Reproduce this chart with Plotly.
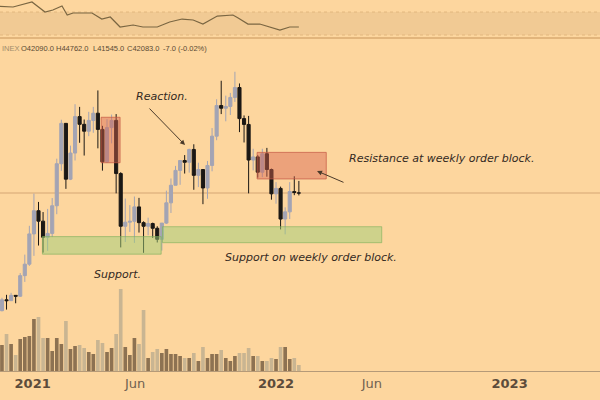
import plotly.graph_objects as go
import pandas as pd

BG = "#fdd69e"
UP_COLOR = "#a3a4b4"
DOWN_COLOR = "#1b1815"
VOL_UP = "#8d7252"
VOL_DOWN = "#c9b592"
TEXT_DARK = "#33291f"

# ---------------- data (weekly BTC candles) ----------------
first_week = "2020-11-16"
weeks = pd.date_range(first_week, periods=66, freq="7D")

opens = [15960, 18370, 18180, 19360, 19170, 23740, 26280, 33000, 38150, 35830,
         32260, 33110, 39250, 48580, 57540, 45150, 50950, 59040, 57330, 55800,
         58200, 59800, 56200, 49000, 56600, 58200, 46400, 34700, 35600, 35800,
         39000, 35500, 34700, 35300, 34250, 31800, 35400, 39900, 43800, 47100,
         49300, 48900, 51750, 46000, 47300, 43200, 48200, 54700, 61500, 60900,
         61300, 63300, 65500, 58600, 57300, 49400, 50100, 46700, 50800, 47300,
         41900, 43100, 36300, 37900, 42400, 42090]
highs = [18820, 19480, 19920, 19420, 24300, 28400, 34800, 41950, 40100, 37850,
         38550, 40960, 49700, 58350, 57540, 52600, 61800, 61200, 58400, 60100,
         61200, 64850, 57000, 58450, 59500, 59600, 46700, 40850, 39400, 41300,
         41000, 35800, 36600, 35500, 34700, 35400, 42600, 45300, 48100, 49400,
         50500, 51900, 52900, 48800, 47300, 49200, 56500, 62900, 67000, 63700,
         64300, 69000, 66400, 59300, 59200, 51900, 50500, 51900, 52100, 47500,
         44500, 43500, 38900, 44500, 45800, 44762]
lows = [15800, 16200, 18100, 17600, 19000, 22350, 25900, 28130, 30420, 28850,
        29240, 32300, 37370, 47000, 43000, 44950, 49300, 53230, 50400, 54700,
        55450, 52000, 47050, 48800, 53100, 42000, 30000, 31200, 33450, 31000,
        33300, 28800, 32700, 32100, 31100, 29300, 35200, 37650, 43800, 43900,
        46400, 46600, 42800, 43400, 39600, 40800, 46900, 53800, 59600, 58000,
        59400, 62300, 55600, 53300, 42000, 47100, 45500, 45600, 45700, 40600,
        39700, 34000, 32900, 36300, 41600, 41545]
closes = [18370, 18180, 19360, 19170, 23740, 26280, 33000, 38150, 35830, 32260,
          33110, 39250, 48580, 57540, 45150, 50950, 59040, 57330, 55800, 58200,
          59800, 56200, 49000, 56600, 58200, 46400, 34700, 35600, 35800, 39000,
          35500, 34700, 35300, 34250, 31800, 35400, 39900, 43800, 47100, 49300,
          48900, 51750, 46000, 47300, 43200, 48200, 54700, 61500, 60900, 61300,
          63300, 65500, 58600, 57300, 49400, 50100, 46700, 50800, 47300, 41900,
          43100, 36300, 37900, 42400, 42200, 42083]
volume_k = [26, 37, 27, 16, 32, 34, 35, 52, 54, 33,
            33, 20, 33, 27, 50, 22, 25, 26, 23, 19,
            17, 31, 28, 19, 23, 37, 82, 24, 16, 33,
            27, 61, 13, 19, 22, 18, 22, 17, 17, 15,
            13, 13, 18, 10, 24, 13, 17, 17, 21, 13,
            10, 15, 18, 18, 23, 15, 15, 10, 10, 13,
            12, 24, 24, 12, 13, 6]

osc_dates = ["2020-11-09", "2020-12-03", "2021-01-01", "2021-01-21", "2021-02-02",
             "2021-02-16", "2021-02-24", "2021-03-05", "2021-03-16", "2021-04-03",
             "2021-04-18", "2021-05-01", "2021-05-16", "2021-06-05", "2021-06-20",
             "2021-07-12", "2021-07-31", "2021-08-19", "2021-09-05", "2021-09-20",
             "2021-10-12", "2021-11-05", "2021-11-13", "2021-11-28", "2021-12-16",
             "2022-01-01", "2022-01-16", "2022-01-31", "2022-02-14"]
osc_values = [80, 78.7, 87.4, 70, 73.5, 80.4, 64.8, 68.3, 68.3, 68.3,
              57.8, 61.3, 43.9, 47.4, 43.9, 43.9, 52.6, 57.8, 56.1, 49.1,
              63, 64.8, 59.6, 49.1, 49.1, 43.9, 38.7, 43.9, 43.9]

tick_dates = ["2021-01-02", "2021-06-08", "2022-01-10", "2022-06-06", "2023-01-03"]
tick_labels = ["2021", "Jun", "2022", "Jun", "2023"]

ohlc_header = ["INEX", "O42090.0", "H44762.0", "L41545.0", "C42083.0", "-7.0 (-0.02%)"]
last_close = 42083

# ---------------- figure ----------------
vol_colors = [VOL_UP if c >= o else VOL_DOWN for o, c in zip(opens, closes)]

fig = go.Figure()
fig.add_trace(go.Bar(
    x=weeks, y=[v * 1000 for v in volume_k], marker=dict(color=vol_colors, line=dict(width=0)),
    width=0.8 * 7 * 86400000, yaxis="y2", hoverinfo="skip"))
fig.add_trace(go.Candlestick(
    x=weeks, open=opens, high=highs, low=lows, close=closes,
    increasing=dict(line=dict(color=UP_COLOR, width=1), fillcolor=UP_COLOR),
    decreasing=dict(line=dict(color=DOWN_COLOR, width=1), fillcolor=DOWN_COLOR),
    whiskerwidth=0, yaxis="y"))
fig.add_trace(go.Scatter(
    x=osc_dates, y=osc_values, mode="lines", line=dict(color="#7a6642", width=1.2),
    yaxis="y3", hoverinfo="skip"))

ticktext = []
for t in tick_labels:
    if t.isdigit():
        ticktext.append("<b><span style='color:#5c4c3b'>%s</span></b>" % t)
    else:
        ticktext.append("<span style='color:#6f6150'>%s</span>" % t)

shapes = [
    # oscillator band
    dict(type="rect", xref="paper", yref="y3", x0=0, x1=1, y0=30, y1=70,
         fillcolor="#f1ca94", line=dict(width=0), layer="below"),
    dict(type="line", xref="paper", yref="y3", x0=0, x1=1, y0=70, y1=70,
         line=dict(color="#e2b77e", width=1, dash="dot"), layer="below"),
    dict(type="line", xref="paper", yref="y3", x0=0, x1=1, y0=30, y1=30,
         line=dict(color="#e2b77e", width=1, dash="dot"), layer="below"),
    dict(type="line", xref="paper", yref="paper", x0=0, x1=1, y0=0.905, y1=0.905,
         line=dict(color="#d8aa70", width=1.5)),
    # last price line
    dict(type="line", xref="paper", yref="y", x0=0, x1=1, y0=last_close, y1=last_close,
         line=dict(color="#d5a675", width=1), layer="below"),
    # support zones
    dict(type="rect", xref="x", yref="y", x0="2021-01-17", x1="2021-07-18", y0=28500, y1=32400,
         fillcolor="rgba(160,205,120,0.5)", line=dict(color="rgba(125,175,90,0.6)", width=1)),
    dict(type="rect", xref="x", yref="y", x0="2021-07-20", x1="2022-06-21", y0=31050, y1=34600,
         fillcolor="rgba(160,205,120,0.5)", line=dict(color="rgba(125,175,90,0.6)", width=1)),
    # order blocks
    dict(type="rect", xref="x", yref="y", x0="2021-04-17", x1="2021-05-16", y0=48800, y1=58900,
         fillcolor="rgba(215,100,80,0.45)", line=dict(color="rgba(195,85,65,0.7)", width=1)),
    dict(type="rect", xref="x", yref="y", x0="2021-12-12", x1="2022-03-28", y0=45200, y1=51100,
         fillcolor="rgba(215,100,80,0.45)", line=dict(color="rgba(195,85,65,0.7)", width=1)),
]

ann_font = dict(family="DejaVu Sans", size=11, color=TEXT_DARK)
annotations = [
    dict(text="<i>Reaction.</i>", xref="paper", yref="paper", x=162 / 600, y=1 - 97 / 400,
         xanchor="center", yanchor="middle", showarrow=False, font=ann_font),
    dict(text="<i>Resistance at weekly order block.</i>", xref="paper", yref="paper",
         x=347 / 600, y=1 - 158 / 400, xanchor="left", yanchor="middle", showarrow=False, font=ann_font),
    dict(text="<i>Support on weekly order block.</i>", xref="paper", yref="paper",
         x=223 / 600, y=1 - 257 / 400, xanchor="left", yanchor="middle", showarrow=False, font=ann_font),
    dict(text="<i>Support.</i>", xref="paper", yref="paper",
         x=92 / 600, y=1 - 274 / 400, xanchor="left", yanchor="middle", showarrow=False, font=ann_font),
    # arrows
    dict(text="", xref="paper", yref="paper", x=185 / 600, y=1 - 145 / 400, ax=-37, ay=-38,
         showarrow=True, arrowhead=2, arrowsize=1, arrowwidth=1, arrowcolor="#4a3a2a"),
    dict(text="", xref="paper", yref="paper", x=317 / 600, y=1 - 171 / 400, ax=28, ay=12,
         showarrow=True, arrowhead=2, arrowsize=1, arrowwidth=1, arrowcolor="#4a3a2a"),
]
# OHLC header line
hdr_x = [0, 19, 54, 91, 125, 161]
for i, (txt, px) in enumerate(zip(ohlc_header, hdr_x)):
    annotations.append(dict(
        text=txt, xref="paper", yref="paper", x=px / 600, y=1 - 48 / 400,
        xanchor="left", yanchor="middle", showarrow=False,
        font=dict(family="Liberation Sans", size=7.5, color="#a18d6c" if i == 0 else "#5a4a34")))

fig.update_layout(
    width=600, height=400, margin=dict(l=0, r=0, t=0, b=0),
    paper_bgcolor=BG, plot_bgcolor=BG, showlegend=False,
    boxgap=0.15, boxgroupgap=0.2,
    xaxis=dict(type="date", range=["2020-11-13", "2023-05-21 12:00"], domain=[0, 1], anchor="y",
               showgrid=False, zeroline=False, showline=True, linecolor="#b59a78", linewidth=1,
               ticks="", tickvals=tick_dates, ticktext=ticktext,
               tickfont=dict(family="DejaVu Sans", size=13),
               rangeslider=dict(visible=False)),
    yaxis=dict(domain=[0.0725, 0.905], range=[2567, 76493], visible=False),
    yaxis2=dict(domain=[0.0725, 0.905], range=[0, 333000], overlaying="y", visible=False),
    yaxis3=dict(domain=[0.905, 1.0], range=[24.8, 90.9], visible=False, anchor="x"),
    shapes=shapes, annotations=annotations,
)

fig.write_html("out.html")
